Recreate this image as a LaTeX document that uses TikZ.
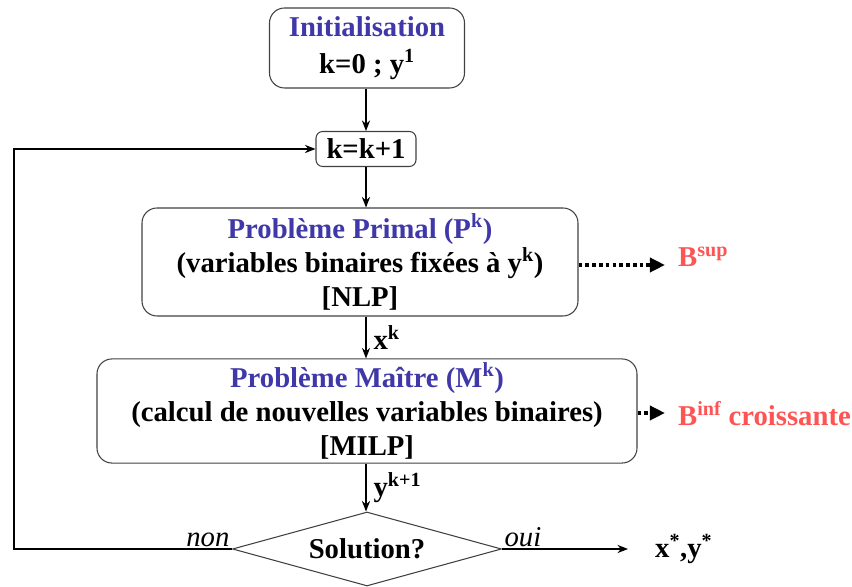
\documentclass[tikz,border=0pt]{standalone}
\usepackage{fontspec}
\setmainfont{Liberation Serif}
\usepackage{xcolor}
\definecolor{titleblue}{RGB}{64,56,168}
\definecolor{boundred}{RGB}{255,84,84}
\usepackage{tikz}
\usetikzlibrary{
  shapes.geometric,
  arrows.meta,
  positioning,
  calc
}

\begin{document}
\begin{tikzpicture}[
  box/.style={rectangle, draw=black!75, line width=0.9pt, rounded corners=0.45cm, align=center, font=\fontsize{24.5}{29}\selectfont\bfseries},
  test/.style={diamond, aspect=3.63, draw=black!75, line width=0.9pt, inner sep=0pt, minimum width=8.07cm, minimum height=2.22cm, font=\fontsize{24.5}{29}\selectfont\bfseries},
  arr/.style={-{Stealth[length=9pt,width=7pt]}, line width=0.9pt},
  dotarr/.style={-{Triangle[length=13pt,width=12pt]}, line width=3.2pt, dash pattern=on 3.2pt off 2.6pt},
  lbl/.style={font=\fontsize{24.5}{28}\selectfont\bfseries, inner sep=6pt},
  bnd/.style={font=\fontsize{24.5}{28}\selectfont\bfseries, text=boundred, anchor=west, inner sep=0pt},
  choice/.style={font=\fontsize{24.5}{28}\selectfont\itshape, inner sep=2pt}
]
  \useasboundingbox (0,0) rectangle (25.56,17.61);

  \node[box, minimum width=5.85cm, minimum height=2.4cm, font=\fontsize{24.5}{31.5}\selectfont\bfseries] (init) at (11.01,16.17)
    {\textcolor{titleblue}{Initialisation}\\k=0 ; y\textsuperscript{1}};

  \node[box, minimum width=3.0cm, minimum height=1.05cm, rounded corners=0.2cm, inner sep=0pt] (kk) at (10.98,13.14) {k=k+1};

  \node[box, minimum width=13.08cm, minimum height=3.24cm] (primal) at (10.8,9.75)
    {\textcolor{titleblue}{Problème Primal (P\textsuperscript{k})}\\(variables binaires fixées à y\textsuperscript{k})\\{[NLP]}};

  \node[box, minimum width=16.2cm, minimum height=3.06cm] (master) at (11.01,5.28)
    {\textcolor{titleblue}{Problème Maître (M\textsuperscript{k})}\\(calcul de nouvelles variables binaires)\\{[MILP]}};

  \node[test] (sol) at (11.01,1.14) {Solution?};

  \node[lbl, anchor=west, inner sep=0pt] (res) at (19.65,1.14) {x\textsuperscript{*},y\textsuperscript{*}};
  \node[bnd] (bsup) at (20.34,9.9) {B\textsuperscript{sup}};
  \node[bnd] (binf) at (20.34,5.2) {B\textsuperscript{inf} croissante};

  \coordinate (loop) at (0.42,1.14);
  \coordinate (supend) at (19.95,9.66);
  \coordinate (infend) at (19.95,5.22);
  \coordinate (resend) at (18.84,1.14);

  \draw[arr] (init.south -| kk.north) -- (kk.north);
  \draw[arr] (kk.south) -- (kk.south |- primal.north);
  \draw[arr] (kk.south |- primal.south) -- node[lbl, right]{x\textsuperscript{k}} (kk.south |- master.north);
  \draw[arr] (kk.south |- master.south) -- node[lbl, right]{y\textsuperscript{k+1}} (kk.south |- sol.north);

  \draw[arr] (sol.west) -- (loop) |- (kk.west);
  \draw[arr] (sol.east) -- (resend);
  \node[choice, above left] at (sol.west) {non};
  \node[choice, above right] at (sol.east) {oui};

  \draw[dotarr] (primal.east |- supend) -- (supend);
  \draw[dotarr] (master.east |- infend) -- (infend);
\end{tikzpicture}
\end{document}
